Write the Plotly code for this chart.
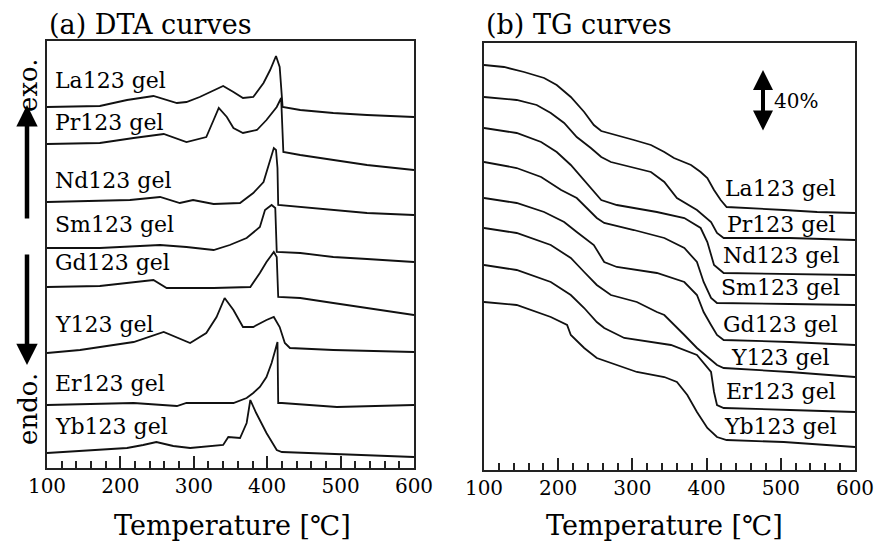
import plotly.graph_objects as go

W, H = 879, 545
SERIF = "DejaVu Serif"
INK = "#111111"

samples = ["La123 gel", "Pr123 gel", "Nd123 gel", "Sm123 gel",
           "Gd123 gel", "Y123 gel", "Er123 gel", "Yb123 gel"]

# (a) DTA curves: (temperature [C], stacked signal [arb.])
dta_la = [(100, 361), (172, 362), (209, 368), (245, 372), (277, 365), (290, 366),
          (308, 371), (327, 378), (340, 382), (354, 376), (367, 370), (381, 371),
          (395, 385), (404, 398), (412, 412), (417, 401), (420, 368), (421, 361),
          (445, 358), (490, 355), (536, 353), (600, 351)]
dta_pr = [(100, 324), (172, 325), (218, 330), (259, 334), (290, 326), (317, 331),
          (327, 348), (334, 360), (345, 351), (354, 340), (367, 335), (386, 338),
          (399, 348), (413, 361), (419, 370), (422, 316), (445, 313), (490, 308),
          (536, 303), (600, 298)]
dta_nd = [(100, 266), (213, 268), (254, 271), (281, 265), (299, 268), (327, 264),
          (363, 265), (381, 275), (395, 286), (403, 305), (409, 320), (412, 318),
          (414, 300), (415, 263), (490, 258), (536, 255), (600, 253)]
dta_sm = [(100, 220), (172, 220), (254, 223), (290, 221), (327, 218), (349, 223),
          (372, 230), (390, 241), (397, 258), (406, 263), (411, 260), (413, 216),
          (445, 215), (490, 211), (536, 209), (600, 206)]
dta_gd = [(100, 181), (172, 182), (245, 188), (263, 180), (327, 180), (377, 181),
          (390, 195), (399, 206), (409, 216), (413, 211), (415, 171), (445, 170),
          (490, 165), (536, 160), (600, 153)]
dta_y = [(100, 115), (145, 118), (218, 126), (259, 136), (295, 125), (317, 135),
         (331, 151), (342, 170), (354, 158), (367, 141), (381, 141), (399, 148),
         (409, 151), (417, 141), (424, 125), (431, 120), (490, 118), (600, 116)]
dta_er = [(100, 63), (218, 65), (277, 62), (290, 65), (354, 65), (372, 70),
          (381, 75), (390, 81), (399, 91), (406, 105), (411, 118), (414, 126),
          (415, 65), (420, 65), (495, 61), (600, 63)]
dta_yb = [(100, 15), (163, 18), (209, 20), (231, 23), (249, 26), (272, 22),
          (295, 20), (340, 23), (347, 31), (363, 30), (372, 45), (377, 68),
          (385, 55), (399, 35), (413, 18), (420, 16), (454, 15), (563, 12), (600, 11)]

# (b) TG curves: (temperature [C], stacked weight [arb.])
tg_la = [(100, 405), (127, 403), (154, 398), (181, 392), (198, 385), (217, 373),
         (235, 358), (248, 345), (258, 339), (279, 335), (302, 330), (325, 325),
         (343, 318), (356, 312), (379, 305), (392, 298), (401, 292), (410, 280),
         (419, 270), (427, 263), (460, 262), (504, 260), (549, 258), (600, 257)]
tg_pr = [(100, 373), (144, 370), (171, 365), (190, 357), (208, 347), (225, 333),
         (244, 322), (258, 313), (271, 308), (302, 302), (325, 298), (343, 288),
         (360, 272), (387, 260), (406, 248), (414, 237), (423, 232), (512, 232),
         (600, 230)]
tg_nd = [(100, 342), (144, 337), (177, 328), (198, 318), (217, 305), (231, 293),
         (244, 283), (258, 270), (279, 265), (333, 258), (370, 252), (392, 242),
         (401, 228), (410, 205), (423, 197), (512, 196), (600, 195)]
tg_sm = [(100, 308), (144, 302), (177, 293), (204, 280), (225, 272), (252, 252),
         (262, 247), (302, 240), (343, 232), (370, 222), (387, 208), (396, 188),
         (406, 172), (414, 167), (512, 166), (600, 165)]
tg_gd = [(100, 272), (144, 267), (181, 258), (208, 248), (225, 238), (248, 225),
         (262, 208), (279, 203), (333, 197), (370, 188), (387, 175), (396, 158),
         (406, 145), (414, 135), (423, 130), (512, 128), (600, 125)]
tg_y = [(100, 242), (144, 237), (190, 225), (217, 212), (235, 198), (252, 185),
        (271, 175), (306, 168), (333, 158), (343, 155), (370, 135), (387, 122),
        (414, 105), (423, 102), (512, 98), (600, 93)]
tg_er = [(100, 205), (144, 200), (190, 188), (217, 175), (235, 162), (252, 148),
         (262, 142), (289, 132), (352, 125), (387, 115), (406, 98), (410, 78),
         (414, 65), (423, 62), (512, 60), (600, 58)]
tg_yb = [(100, 168), (144, 165), (190, 153), (212, 145), (217, 135), (235, 122),
         (252, 112), (279, 105), (306, 98), (343, 93), (360, 88), (374, 75),
         (387, 58), (401, 42), (414, 33), (427, 30), (504, 28), (600, 23)]

dta_curves = [dta_la, dta_pr, dta_nd, dta_sm, dta_gd, dta_y, dta_er, dta_yb]
tg_curves = [tg_la, tg_pr, tg_nd, tg_sm, tg_gd, tg_y, tg_er, tg_yb]

fig = go.Figure()
for name, pts in zip(samples, dta_curves):
    t, v = zip(*pts)
    fig.add_trace(go.Scatter(x=t, y=v, mode="lines", name=name, showlegend=False,
                             line=dict(color=INK, width=1.8), xaxis="x", yaxis="y"))
for name, pts in zip(samples, tg_curves):
    t, v = zip(*pts)
    fig.add_trace(go.Scatter(x=t, y=v, mode="lines", name=name, showlegend=False,
                             line=dict(color=INK, width=1.8), xaxis="x2", yaxis="y2"))


def xax(domain):
    return dict(domain=domain, range=[100, 600], tickvals=[100, 200, 300, 400, 500, 600],
                ticks="inside", ticklen=12, tickwidth=1.5, tickcolor="#222",
                minor=dict(dtick=20, ticks="inside", ticklen=7, tickwidth=1.5, tickcolor="#222"),
                showline=True, linecolor="#222", linewidth=2, mirror=True,
                showgrid=False, zeroline=False, ticklabelstandoff=-1, automargin=False,
                tickfont=dict(family=SERIF, size=20, color="black"))


def yax(domain, anchor):
    return dict(domain=domain, range=[0, 427], showticklabels=False, ticks="",
                showline=True, linecolor="#222", linewidth=2, mirror=True,
                showgrid=False, zeroline=False, anchor=anchor, automargin=False)


fig.update_layout(
    template="none",
    width=W, height=H, margin=dict(l=0, r=0, t=0, b=0, pad=0),
    plot_bgcolor="white", paper_bgcolor="white",
    xaxis=xax([47 / W, 414 / W]) | dict(anchor="y"),
    yaxis=yax([1 - 468 / H, 1 - 41 / H], "x"),
    xaxis2=xax([484 / W, 855 / W]) | dict(anchor="y2"),
    yaxis2=yax([1 - 470 / H, 1 - 43 / H], "x2"),
)


def note(text, x, y, size, xanchor="left", xref="paper", yref="paper", angle=0):
    fig.add_annotation(text=text, x=x, y=y, xref=xref, yref=yref, showarrow=False,
                       xanchor=xanchor, yanchor="middle", textangle=angle,
                       font=dict(family=SERIF, size=size, color="black"))


note("(a) DTA curves", 47 / W, 1 - 24 / H, 27)
note("(b) TG curves", 484 / W, 1 - 25 / H, 27)
note("Temperature [℃]", 232 / W, 1 - 525 / H, 27, xanchor="center")
note("Temperature [℃]", 664 / W, 1 - 525 / H, 27, xanchor="center")
note("exo.", 28 / W, 1 - 85 / H, 26, xanchor="center", angle=-90)
note("endo.", 28 / W, 1 - 409 / H, 26, xanchor="center", angle=-90)
note("40%", 772 / W, 1 - 101 / H, 20)

label_y_dta = [387, 345, 287, 243, 206, 144, 85, 42]
label_y_tg = [282, 246, 215, 183, 146, 113, 79, 44]
for name, ya, yb in zip(samples, label_y_dta, label_y_tg):
    note(name, 108, ya, 22, xref="x", yref="y")
    note(name, 500, yb, 22, xanchor="center", xref="x2", yref="y2")

# exo./endo. arrows and the 40% scale bar
arrow = dict(xref="paper", yref="paper", text="", showarrow=True, arrowcolor="black",
             arrowhead=2, axref="pixel", ayref="pixel", ax=0, standoff=0)
fig.add_annotation(arrow | dict(x=27 / W, y=1 - 105 / H, ay=115, arrowwidth=4.5, arrowsize=0.95))
fig.add_annotation(arrow | dict(x=27 / W, y=1 - 365 / H, ay=-112, arrowwidth=4.5, arrowsize=0.95))
fig.add_annotation(arrow | dict(x=763 / W, y=1 - 70 / H, ay=62, arrowwidth=4, arrowsize=1.0,
                                arrowside="end+start", startarrowhead=2, startarrowsize=1.0))

# the page's default 8px body margin would shift the whole figure
fig.write_html("out.html", config={"displayModeBar": False},
               post_script="document.body.style.margin='0';")
